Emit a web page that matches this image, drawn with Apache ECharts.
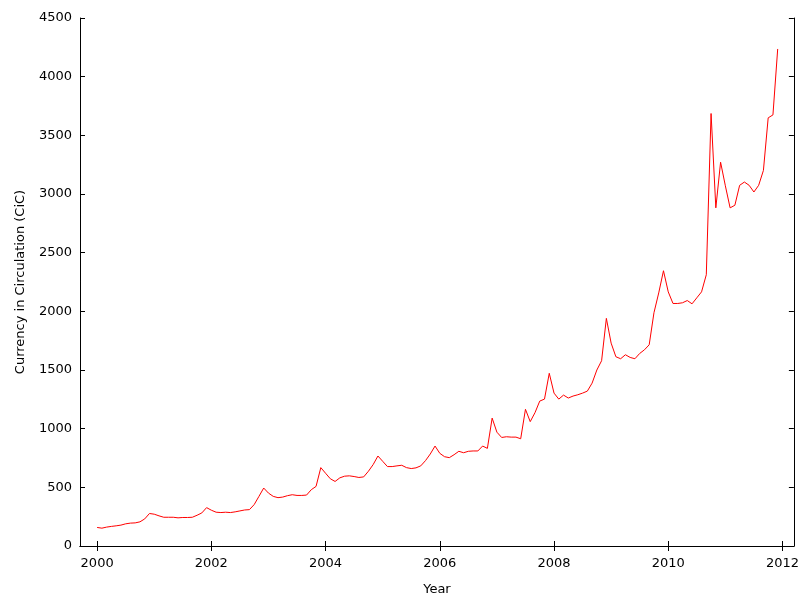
<!DOCTYPE html>
<html>
<head>
<meta charset="utf-8">
<script src="https://cdn.jsdelivr.net/npm/echarts@6/dist/echarts.min.js"></script>
<style>
html,body{margin:0;padding:0;background:#fff;}
#chart{width:802px;height:601px;}
</style>
</head>
<body>
<div id="chart"></div>
<script>
// Monthly Currency in Circulation, Jan 2000 .. Dec 2011
const startYear = 2000;
const cic2000 = [158,152,161,167,172,178,189,195,197,206,231,277];
const cic2001 = [271,257,245,245,245,240,243,243,245,262,282,327];
const cic2002 = [305,288,285,288,285,291,299,307,310,353,423,494];
const cic2003 = [451,423,412,417,429,437,431,431,434,480,508,668];
const cic2004 = [620,573,550,581,595,598,592,584,589,637,694,767];
const cic2005 = [722,677,677,683,688,668,660,666,683,728,784,852];
const cic2006 = [790,761,753,778,807,795,807,810,810,852,832,1090];
const cic2007 = [970,925,931,928,928,914,1165,1060,1136,1235,1252,1472];
const cic2008 = [1303,1252,1286,1261,1278,1289,1303,1320,1388,1500,1579,1940];
const cic2009 = [1729,1613,1596,1630,1607,1596,1641,1672,1715,1988,2157,2346];
const cic2010 = [2166,2067,2067,2073,2092,2064,2115,2166,2312,3686,2882,3271];
const cic2011 = [3070,2882,2904,3074,3102,3074,3017,3074,3201,3649,3674,4236];
const xTicks = [2000,2002,2004,2006,2008,2010,2012];
const yTicks = [0,500,1000,1500,2000,2500,3000,3500,4000,4500];

const years = [cic2000,cic2001,cic2002,cic2003,cic2004,cic2005,cic2006,cic2007,cic2008,cic2009,cic2010,cic2011];
const data = [];
years.forEach((arr, yi) => arr.forEach((v, mi) => data.push([startYear + yi + mi / 12, v])));

const font = 'DejaVu Sans';
const axisLine = {show:true, lineStyle:{color:'#000', width:1}};
const chart = echarts.init(document.getElementById('chart'), null, {renderer:'canvas'});
chart.setOption({
  animation:false,
  backgroundColor:'#fff',
  grid:{left:80, right:8, top:18, bottom:51, containLabel:false},
  xAxis:[{
    type:'value', min:1999.7, max:2012.2, position:'bottom',
    name:'Year', nameLocation:'middle', nameGap:37,
    nameTextStyle:{fontFamily:font, fontSize:13, color:'#000'},
    axisLine:axisLine,
    axisTick:{show:true, inside:true, length:5, customValues:xTicks, lineStyle:{color:'#000'}},
    axisLabel:{show:true, customValues:xTicks, formatter:v=>String(Math.round(v)), fontFamily:font, fontSize:13, color:'#000', margin:11},
    splitLine:{show:false}
  },{
    type:'value', min:1999.7, max:2012.2, position:'top',
    axisLine:axisLine,
    axisTick:{show:true, inside:true, length:5, customValues:xTicks, lineStyle:{color:'#000'}},
    axisLabel:{show:false},
    splitLine:{show:false}
  }],
  yAxis:[{
    type:'value', min:0, max:4500, interval:500, position:'left',
    name:'Currency in Circulation (CiC)', nameLocation:'middle', nameGap:53, nameRotate:90,
    nameTextStyle:{fontFamily:font, fontSize:13, color:'#000'},
    axisLine:axisLine,
    axisTick:{show:true, inside:true, length:5, customValues:yTicks, lineStyle:{color:'#000'}},
    axisLabel:{show:true, customValues:yTicks, formatter:v=>String(Math.round(v)), fontFamily:font, fontSize:13, color:'#000', margin:8},
    splitLine:{show:false}
  },{
    type:'value', min:0, max:4500, interval:500, position:'right',
    axisLine:axisLine,
    axisTick:{show:true, inside:true, length:5, customValues:yTicks, lineStyle:{color:'#000'}},
    axisLabel:{show:false},
    splitLine:{show:false}
  }],
  series:[{
    type:'line', xAxisIndex:0, yAxisIndex:0,
    data:data, showSymbol:false, symbol:'none',
    lineStyle:{color:'#ff0000', width:1},
    itemStyle:{color:'#ff0000'}
  }]
});
</script>
</body>
</html>
